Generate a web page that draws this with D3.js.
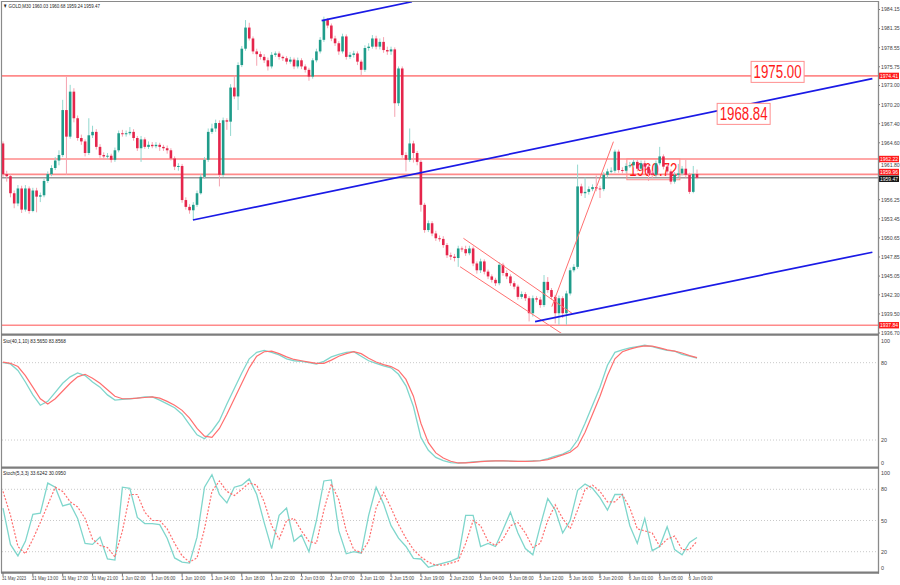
<!DOCTYPE html>
<html><head><meta charset="utf-8">
<script src="https://cdn.jsdelivr.net/npm/d3@7"></script>
<style>body{margin:0;background:#fff}svg{display:block}text{font-family:"Liberation Sans",Arial,sans-serif}</style>
</head><body><svg id="c" width="900" height="585"></svg>
<script>
// ---------- DATA ----------
const symbolHeader = "GOLD,M30  1960.03 1960.68 1959.24 1959.47";
const firstOpen = 1964.5;
const closes = [1960.0,1959.7,1957.2,1955.7,1957.9,1954.8,1957.9,1954.6,1957.6,1956.7,
1956.9,1959.0,1960.0,1960.9,1962.0,1962.8,1969.4,1965.5,1972.1,1968.2,
1965.3,1964.8,1963.1,1965.7,1966.2,1964.0,1962.8,1962.6,1962.7,1962.1,
1963.5,1966.0,1965.9,1966.0,1966.2,1965.3,1963.8,1965.1,1964.0,1964.3,
1964.1,1964.3,1964.0,1963.8,1963.5,1962.3,1961.1,1961.2,1956.2,1955.2,
1954.7,1955.5,1957.2,1959.6,1962.1,1966.2,1966.7,1967.5,1959.9,1967.9,
1967.7,1972.7,1971.4,1976.0,1978.4,1981.5,1979.9,1978.0,1977.6,1977.2,
1976.7,1975.8,1977.5,1977.7,1977.2,1977.0,1976.5,1976.8,1975.8,1976.7,
1975.8,1975.3,1974.3,1976.7,1978.0,1979.7,1982.6,1981.8,1979.9,1979.2,
1978.0,1980.2,1977.2,1977.5,1977.7,1976.5,1975.3,1978.5,1978.7,1979.9,
1978.7,1979.4,1978.2,1978.0,1978.3,1970.4,1975.5,1962.8,1962.1,1964.5,
1963.1,1961.8,1955.5,1951.8,1952.8,1951.3,1950.6,1950.5,1949.6,1948.1,
1947.9,1947.7,1949.1,1949.0,1948.4,1949.1,1946.9,1945.9,1947.2,1945.7,
1945.0,1944.5,1944.0,1946.7,1945.5,1945.0,1944.0,1943.5,1942.0,1942.4,
1941.8,1939.6,1941.8,1941.6,1940.8,1944.2,1943.0,1942.0,1939.6,1941.8,
1939.6,1942.5,1945.9,1946.4,1958.2,1957.2,1957.4,1957.8,1958.1,1957.9,
1957.8,1959.9,1960.4,1960.5,1963.3,1960.6,1960.5,1961.2,1961.3,1961.8,
1960.8,1961.6,1961.1,1960.1,1959.9,1961.6,1962.6,1961.1,1960.4,1958.9,
1959.9,1960.1,1960.8,1959.9,1957.4,1960.03,1959.47];
const highs = [1964.8,1960.5,1960.0,1957.6,1958.4,1958.3,1958.4,1958.2,1958.0,1958.0,
1957.3,1959.3,1960.4,1961.3,1962.5,1963.5,1970.9,1974.3,1973.1,1972.6,
1968.6,1965.8,1965.1,1968.2,1967.1,1966.6,1964.4,1963.2,1963.1,1963.0,
1963.9,1966.4,1966.5,1966.4,1966.9,1966.6,1965.6,1965.6,1965.4,1964.8,
1964.7,1964.7,1964.6,1964.3,1964.2,1963.8,1962.6,1961.6,1961.5,1956.6,
1955.6,1955.9,1957.6,1960.0,1962.5,1966.7,1967.4,1968.0,1967.9,1968.3,
1968.2,1973.2,1974.5,1976.4,1978.8,1982.6,1982.2,1980.2,1978.4,1978.0,
1977.6,1977.1,1977.9,1978.0,1978.0,1977.4,1977.3,1977.2,1977.1,1977.1,
1977.0,1976.1,1975.6,1977.0,1978.4,1980.1,1983.1,1982.9,1982.1,1980.3,
1979.5,1980.6,1980.5,1977.9,1978.1,1978.0,1976.8,1978.9,1979.2,1980.4,
1980.3,1979.9,1980.1,1978.7,1978.7,1978.6,1975.8,1975.8,1963.2,1966.7,
1964.9,1963.4,1962.1,1955.8,1953.2,1953.1,1951.7,1951.0,1950.9,1949.9,
1948.5,1948.3,1949.5,1949.4,1949.5,1949.5,1949.4,1947.2,1947.6,1947.5,
1946.0,1945.3,1944.8,1947.1,1947.0,1945.9,1945.3,1944.3,1943.8,1942.8,
1942.7,1942.1,1942.2,1942.1,1942.0,1945.2,1944.9,1943.3,1942.3,1942.2,
1942.1,1942.9,1946.3,1946.8,1961.4,1958.6,1959.5,1958.2,1958.5,1959.8,
1958.3,1960.3,1960.8,1961.0,1963.6,1963.6,1961.0,1961.6,1961.8,1962.2,
1962.1,1962.0,1962.0,1961.4,1960.5,1962.0,1964.0,1962.9,1961.5,1960.7,
1960.3,1961.5,1961.2,1962.1,1960.2,1961.2,1960.68];
const lows = [1959.6,1958.9,1956.6,1955.0,1955.3,1954.3,1954.5,1954.2,1954.4,1954.4,
1955.9,1956.6,1958.7,1959.7,1960.6,1961.3,1962.5,1959.9,1965.2,1967.6,
1964.9,1964.3,1962.6,1962.8,1965.3,1963.6,1962.4,1962.1,1962.2,1961.7,
1961.8,1963.2,1965.5,1965.5,1965.7,1964.9,1963.4,1961.8,1963.7,1963.7,
1963.8,1963.8,1963.4,1963.4,1963.0,1962.0,1960.6,1960.5,1955.8,1954.8,
1954.2,1953.3,1955.2,1957.0,1959.3,1961.8,1965.9,1966.2,1958.2,1959.6,
1966.5,1965.6,1971.0,1969.4,1975.7,1978.1,1979.6,1977.6,1975.9,1976.8,
1976.3,1975.2,1975.5,1977.2,1976.8,1976.6,1976.1,1976.2,1975.4,1975.5,
1975.4,1974.9,1973.7,1974.0,1976.4,1977.7,1979.4,1981.4,1979.5,1978.8,
1977.5,1977.7,1976.8,1976.9,1977.1,1976.0,1974.5,1975.0,1978.1,1978.4,
1978.3,1978.3,1977.8,1977.5,1977.5,1968.4,1970.0,1962.4,1960.4,1961.8,
1961.7,1961.3,1954.5,1951.4,1951.5,1950.9,1950.2,1950.1,1949.2,1947.7,
1947.4,1947.2,1946.4,1948.6,1948.0,1948.1,1946.5,1945.4,1945.5,1945.3,
1944.6,1944.1,1943.6,1943.7,1945.1,1944.6,1943.6,1943.1,1941.6,1941.7,
1941.4,1938.4,1939.1,1941.2,1940.4,1940.5,1942.6,1941.6,1938.1,1937.9,
1938.9,1937.9,1942.2,1945.6,1946.1,1956.8,1956.5,1957.0,1957.5,1957.5,
1956.5,1957.5,1959.5,1960.1,1960.2,1960.2,1960.1,1960.2,1960.9,1961.0,
1960.4,1960.5,1960.7,1959.0,1959.4,1959.6,1961.3,1960.7,1960.0,1958.5,
1958.6,1959.6,1959.8,1959.5,1957.1,1957.2,1959.24];

const timeLabels = ["31 May 2023","31 May 13:00","31 May 17:00","31 May 21:00","1 Jun 02:00","1 Jun 06:00",
"1 Jun 10:00","1 Jun 14:00","1 Jun 18:00","1 Jun 22:00","2 Jun 03:00","2 Jun 07:00","2 Jun 11:00",
"2 Jun 15:00","2 Jun 19:00","2 Jun 23:00","5 Jun 04:00","5 Jun 08:00","5 Jun 12:00","5 Jun 16:00",
"5 Jun 20:00","6 Jun 01:00","6 Jun 05:00","6 Jun 09:00"];
const barsPerTimeLabel = 8;
const priceTicks = [1984.15,1981.35,1978.55,1975.75,1973.00,1970.20,1967.40,1964.60,1961.80,
1956.25,1953.45,1950.65,1947.85,1945.05,1942.30,1939.50,1936.70];
const priceDomain = [1936.70,1984.15];
const levelLines = [1974.41,1962.22,1959.96,1937.84];
const bidPrice = 1959.47;

// oscillators sampled every 2nd bar
const oscStep = 2;
const sto1Main = [80,79,74,65,55,47,50,57,64,69,
72,70,65,61,55,51,51.5,52,52.5,53.5,
53.5,51,48,45,40,32,24,21,27,35,
48,60,72,83,88,89.5,88,86,83,81.5,
81,80,79,81,84.5,86.5,88,88.5,85,81.5,
79.5,77.5,76,71,62,46,22,12,6.5,4,
2.5,2,2.5,3,3.5,3.7,3.8,3.8,3.6,3.5,
3.5,3.8,4,5.5,7.5,9,12,20,33,47,
61,78,88,90,91.5,92.5,93.5,92.5,91,89.5,
89,86.5,85,83.6];
const sto1Signal = [80.5,79.5,77,70,61,52,48,52,58,64,
69,71,68,64,59,54,52,52,52.5,53,
53.5,52.5,50,47,43,37,29,23,22,29,
40,52,64,76,85,88.5,89,87,84.5,82.5,
81.5,80.5,79.5,79.5,82,85,87,88.5,87,83.5,
80.5,78.5,77,74,67,54,33,18,10,6,
3.5,2.2,2.2,2.7,3.2,3.6,3.8,3.8,3.7,3.5,
3.5,3.6,3.9,4.8,6.5,8.5,10.5,15,26,40,
54,70,83,88.5,90.5,92,93,92.8,91.5,90,
89,87.5,85.5,83.9];
const sto2Main = [62,27,16,30,56,57,86,82,64,66,
52,28,27,34,13,12,82,81,53,47,
47,46,33,14,10,9,34,82,94,75,
67,82,84,90,75,48,23,55,62,30,
36,20,50,88,89,40,18,20,18.5,55,
82,66,45,33,25,13.5,13,5,7,9,
11,14,55,55,25,28,25,41,58,38,
23,17,45,71,60,38,50,79,85,81,
72,60,75,75,45,28,52,21,25,44,
22,17,29,33.6];
const sto2Signal = [78,55,25,18,32,48,65,82,78,68,
63,52,32,26,24,15,40,75,75,58,
50,50,42,28,16,10,14,42,78,88,
78,74,80,86,84,68,45,32,50,52,
40,30,28,60,85,70,40,22,19,30,
62,77,62,46,33,22,15,10,7,7,
9,11,28,50,45,30,26,32,45,48,
38,24,28,50,65,52,42,60,80,84,
78,68,68,75,62,42,40,38,25,32,
35,22,22,30.1];
const sto1Title = "Sto(40,1,10) 83.5650 83.8568";
const sto2Title = "Stoch(5,3,3) 33.6242 30.0950";
const sto1Levels = [80,20];
const sto2Levels = [80,50,20];
const sto1AxisLabels = [100,80,20,0];
const sto2AxisLabels = [100,80,50,20,0];

// trend lines: [bar, price] pairs
const blueLines = [
  [[85.4,1982.51],[109.6,1985.29]],
  [[50.9,1953.27],[233.0,1974.0]],
  [[142.6,1938.36],[233.0,1948.55]]
];
const redThinLines = [
  [[123.4,1950.59],[152.5,1939.59]],
  [[122.5,1946.42],[151.2,1936.1]],
  [[147.1,1940.56],[163.6,1964.76]]
];
const priceBoxes = [
  {label:"1960.72", bar:167.2, price:1960.72, opaque:false},
  {label:"1968.84", bar:191.4, price:1968.84, opaque:true},
  {label:"1975.00", bar:200.5, price:1975.00, opaque:true}
];

// ---------- DRAW ----------
const svg = d3.select("#c");
const R = 878;
const xs = d3.scaleLinear().domain([0, closes.length-1]).range([3, 697]);
const ys = d3.scaleLinear().domain(priceDomain).range([333, 9.5]);
const y1 = d3.scaleLinear().domain([0,100]).range([465.8, 336.9]);
const y2 = d3.scaleLinear().domain([0,100]).range([572.5, 468.5]);

const defs = svg.append("defs");
function clip(id,x,y,w,h){defs.append("clipPath").attr("id",id).append("rect").attr("x",x).attr("y",y).attr("width",w).attr("height",h);}
clip("cm",2,2,R-2,331); clip("c1",2,336,R-2,130); clip("c2",2,469,R-2,103);

svg.append("rect").attr("width",900).attr("height",585).attr("fill","#fff");

function smallText(parent, x, y, size, fill, str, targetW){
  const t = parent.append("text").attr("font-size",size).attr("fill",fill).text(str);
  const nat = t.node().getComputedTextLength();
  const sx = targetW ? Math.min(1, targetW/nat) : 1;
  t.attr("transform",`translate(${x},${y}) scale(${sx},1)`);
  return t;
}

const main = svg.append("g").attr("clip-path","url(#cm)");
main.selectAll(".lvl").data(levelLines).enter().append("line")
  .attr("x1",2).attr("x2",R).attr("y1",d=>ys(d)).attr("y2",d=>ys(d))
  .attr("stroke","#ff8a8a").attr("stroke-width",1.6);
main.append("line").attr("x1",2).attr("x2",R).attr("y1",ys(bidPrice)).attr("y2",ys(bidPrice))
  .attr("stroke","#9a9a9a").attr("stroke-width",1.4);

function drawBox(g,b){
  const x = xs(b.bar), yc = ys(b.price);
  g.append("rect").attr("x",x).attr("y",yc-10.5).attr("width",53).attr("height",21)
    .attr("fill",b.opaque?"#fff":"none").attr("stroke","#ff8f8f").attr("stroke-width",1);
  g.append("text").attr("x",x+2.5).attr("y",yc+6.5).attr("font-size",18).attr("fill","#ff1a1a")
    .attr("textLength",48).attr("lengthAdjust","spacingAndGlyphs").text(b.label);
}
drawBox(main, priceBoxes[0]);

const candles = main.append("g");
closes.forEach((c,i)=>{
  const o = i ? closes[i-1] : firstOpen;
  const bull = c >= o;
  const x = xs(i);
  candles.append("line").attr("x1",x).attr("x2",x).attr("y1",ys(highs[i])).attr("y2",ys(lows[i]))
    .attr("stroke", bull ? "#93d8cf" : "#f5a3b0").attr("stroke-width",1);
  const top = ys(Math.max(o,c)), h = Math.max(1, Math.abs(ys(o)-ys(c)));
  candles.append("rect").attr("x",x-1.3).attr("y",top).attr("width",2.6).attr("height",h)
    .attr("fill", bull ? "#1f9c8a" : "#e5254b");
});

const line = d3.line().x(d=>xs(d[0])).y(d=>ys(d[1]));
main.selectAll(".rt").data(redThinLines).enter().append("path").attr("d",line)
  .attr("stroke","#ff7070").attr("stroke-width",1).attr("fill","none");
main.selectAll(".bl").data(blueLines).enter().append("path").attr("d",line)
  .attr("stroke","#1a1ae6").attr("stroke-width",1.7).attr("fill","none");
drawBox(main, priceBoxes[1]);
drawBox(main, priceBoxes[2]);

smallText(svg, 3, 8, 6, "#222", "▼ " + symbolHeader, 97);

// price axis
const ax = svg.append("g");
const tagNudge = {"1959.96":-2.4, "1959.47":1.0};
const tickNudge = {"1961.80":3.4};
priceTicks.forEach(p=>{
  const k = p.toFixed(2);
  ax.append("line").attr("x1",R).attr("x2",R+2).attr("y1",ys(p)).attr("y2",ys(p)).attr("stroke","#777");
  smallText(ax, R+3, ys(p)+1.9+(tickNudge[k]||0), 5.2, "#444", k, 19);
});
function tag(p,bg){
  const k = p.toFixed(2), yc = ys(p)+(tagNudge[k]||0);
  ax.append("rect").attr("x",R+1).attr("y",yc-3.2).attr("width",20).attr("height",6.4).attr("fill",bg);
  smallText(ax, R+2, yc+1.8, 5.2, "#fff", k, 18);
}
levelLines.forEach(p=>tag(p,"#ff1a1a"));
tag(bidPrice,"#111");

function panel(clipId, yS, levels, axisLabels, mainV, sigV, sigDash, title, ty, clampLo, clampHi){
  const g = svg.append("g").attr("clip-path",`url(#${clipId})`);
  levels.forEach(l=>g.append("line").attr("x1",2).attr("x2",R).attr("y1",yS(l)).attr("y2",yS(l))
    .attr("stroke","#c9c9c9").attr("stroke-width",1).attr("stroke-dasharray","1,2"));
  const ln = d3.line().x((d,i)=>xs(i*oscStep)).y(d=>yS(d));
  g.append("path").attr("d",ln(mainV)).attr("fill","none").attr("stroke","#7fd6cc").attr("stroke-width",1.3);
  const s = g.append("path").attr("d",ln(sigV)).attr("fill","none").attr("stroke","#ff6f6f").attr("stroke-width",1.2);
  if(sigDash) s.attr("stroke-dasharray",sigDash);
  smallText(svg, 3, ty, 5.8, "#222", title, title.length*2.25);
  axisLabels.forEach(v=>{
    const yy = Math.max(clampLo, Math.min(clampHi, yS(v)));
    smallText(svg, R+3, yy+2, 5.4, "#444", String(v));
  });
}
panel("c1", y1, sto1Levels, sto1AxisLabels, sto1Main, sto1Signal, null, sto1Title, 343, 341, 463);
panel("c2", y2, sto2Levels, sto2AxisLabels, sto2Main, sto2Signal, "2,1.6", sto2Title, 475, 473, 568);

const bc = "#8a8a8a";
svg.append("line").attr("x1",1).attr("x2",R).attr("y1",1.5).attr("y2",1.5).attr("stroke",bc).attr("stroke-width",1.2);
svg.append("line").attr("x1",1.5).attr("x2",1.5).attr("y1",1).attr("y2",573).attr("stroke",bc).attr("stroke-width",1.2);
svg.append("line").attr("x1",R+0.5).attr("x2",R+0.5).attr("y1",1).attr("y2",573.5).attr("stroke",bc).attr("stroke-width",1.3);
[334.6,467.6,572.6].forEach(y=>svg.append("line").attr("x1",1).attr("x2",R+1).attr("y1",y).attr("y2",y)
  .attr("stroke","#7d7d7d").attr("stroke-width",2.2));

timeLabels.forEach((t,k)=>{
  const x = xs(k*barsPerTimeLabel);
  svg.append("line").attr("x1",x).attr("x2",x).attr("y1",573).attr("y2",576).attr("stroke","#777");
  smallText(svg, x-1, 580, 5.8, "#444", t, t.length*2.2);
});
</script></body></html>
